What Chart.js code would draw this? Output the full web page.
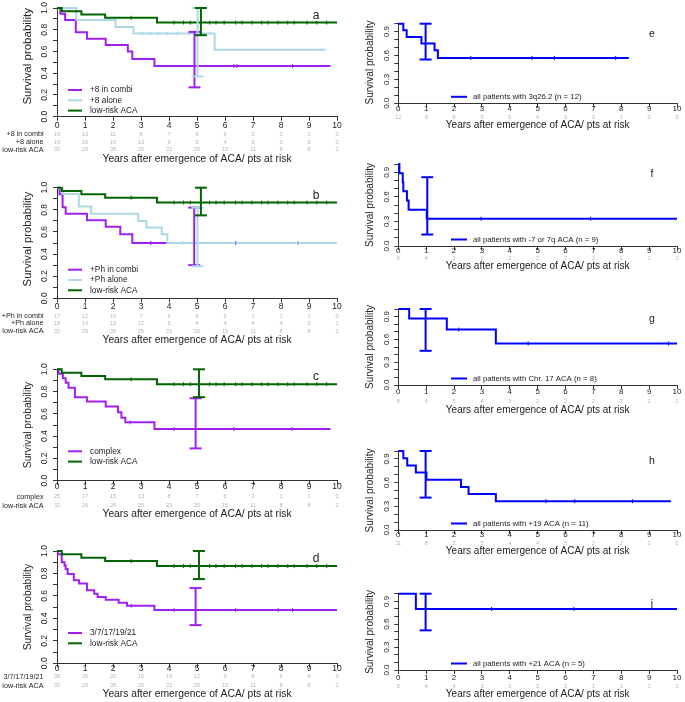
<!DOCTYPE html>
<html><head><meta charset="utf-8">
<script src="https://cdn.jsdelivr.net/npm/chart.js@4.4.0/dist/chart.umd.min.js"></script>
<style>
body{margin:0;background:#fff;width:685px;height:702px;position:relative;overflow:hidden}
canvas{position:absolute}
</style></head><body>
<script>
// ---- data ----
const years = [0, 1, 2, 3, 4, 5, 6, 7, 8, 9, 10];
const leftYTicks = [0, 0.2, 0.4, 0.6, 0.8, 1.0];
const rightYTicks = [0, 0.3, 0.6, 0.9];

// low-risk ACA reference curve, same in panels a-d
const lowRiskT = [0, 0.17, 0.87, 1.72, 3.57, 10];
const lowRiskS = [1, 0.97, 0.94, 0.91, 0.866, 0.866];
const lowRiskCens = [2.65, 4.18, 4.52, 4.76, 5.45, 5.68, 5.97, 6.38, 6.61, 6.96, 7.31, 7.54, 7.89, 8.24, 8.47, 8.93, 9.28, 9.63];
const lowRiskCI = [0.75, 1.0];
const lowRiskRisk = [32, 29, 28, 25, 23, 20, 15, 11, 8, 8, 2];

// a
const p8CombiT = [0, 0.12, 0.29, 0.67, 1.07, 1.74, 2.53, 2.69, 3.48, 9.77];
const p8CombiS = [1, 0.947, 0.889, 0.778, 0.717, 0.66, 0.60, 0.53, 0.466, 0.466];
const p8CombiCens = [6.32, 6.42, 8.41];
const p8CombiCI = [0.27, 0.78];
const p8CombiRisk = [19, 13, 11, 8, 7, 6, 6, 2, 2, 1, 0];
const p8AloneT = [0, 0.69, 2.09, 2.73, 5.63, 9.6];
const p8AloneS = [1, 0.889, 0.826, 0.766, 0.616, 0.616];
const p8AloneCens = [3.04, 3.34, 3.6, 3.94, 4.29, 4.7];
const p8AloneCI = [0.37, 1.0];
const p8AloneRisk = [19, 16, 16, 13, 9, 5, 4, 3, 3, 3, 0];

// b
const phCombiT = [0, 0.09, 0.2, 0.31, 1.07, 1.74, 2.26, 2.69, 9.77];
const phCombiS = [1, 0.941, 0.824, 0.765, 0.706, 0.647, 0.578, 0.5, 0.5];
const phCombiCens = [3.35, 6.38, 8.6];
const phCombiCI = [0.30, 0.82];
const phCombiRisk = [17, 12, 10, 7, 6, 6, 5, 1, 1, 1, 0];
const phAloneT = [0, 0.2, 0.78, 1.22, 2.9, 3.19, 3.74, 3.94, 10];
const phAloneS = [1, 0.944, 0.83, 0.765, 0.70, 0.64, 0.58, 0.5, 0.5];
const phAloneCens = [4.5, 6.4, 8.6];
const phAloneCI = [0.29, 0.82];
const phAloneRisk = [18, 14, 13, 12, 6, 4, 4, 4, 4, 3, 1];

// c
const complexT = [0, 0.06, 0.21, 0.31, 0.41, 0.64, 1.07, 1.74, 2.18, 2.3, 2.44, 3.48, 9.77];
const complexS = [1, 0.96, 0.92, 0.88, 0.835, 0.75, 0.71, 0.665, 0.614, 0.565, 0.524, 0.464, 0.464];
const complexCens = [2.61, 4.18, 6.32, 8.39];
const complexCI = [0.29, 0.74];
const complexRisk = [25, 17, 15, 13, 8, 7, 6, 2, 1, 1, 0];

// d
const acaT = [0, 0.03, 0.17, 0.27, 0.31, 0.38, 0.6, 0.79, 1.07, 1.33, 1.45, 1.74, 2.2, 2.5, 3.48, 10];
const acaS = [1, 0.97, 0.90, 0.87, 0.84, 0.795, 0.74, 0.71, 0.65, 0.62, 0.59, 0.565, 0.54, 0.513, 0.475, 0.475];
const acaCens = [2.65, 4.18, 6.38, 7.9, 8.41];
const acaCI = [0.34, 0.67];
const acaRisk = [38, 26, 20, 16, 14, 12, 9, 8, 6, 4, 3];

// e-j
const q3T = [0, 0.18, 0.3, 0.83, 1.3, 1.42, 8.27];
const q3S = [1, 0.917, 0.833, 0.75, 0.667, 0.57, 0.57];
const q3Cens = [2.6, 4.8, 5.6, 7.8];
const q3CI = [0.55, 1.0];
const q3Risk = [12, 9, 6, 5, 5, 4, 3, 3, 1, 0, 0];

const m7T = [0, 0.04, 0.16, 0.18, 0.31, 0.37, 1.02, 10];
const m7S = [1, 0.889, 0.778, 0.667, 0.556, 0.444, 0.333, 0.333];
const m7Cens = [2.97, 6.9];
const m7CI = [0.14, 0.84];
const m7Risk = [9, 4, 3, 2, 2, 2, 2, 1, 1, 1, 1];

const c17T = [0, 0.39, 1.74, 3.5, 10];
const c17S = [1, 0.875, 0.729, 0.547, 0.547];
const c17Cens = [2.17, 4.66, 9.7];
const c17CI = [0.45, 1.0];
const c17Risk = [8, 6, 5, 4, 3, 2, 2, 2, 2, 2, 1];

const p19T = [0, 0.18, 0.32, 0.63, 1.01, 2.25, 2.52, 3.5, 9.78];
const p19S = [1, 0.909, 0.818, 0.727, 0.636, 0.545, 0.455, 0.364, 0.364];
const p19Cens = [5.3, 6.33, 8.4];
const p19CI = [0.41, 1.0];
const p19Risk = [11, 8, 7, 5, 4, 4, 3, 2, 2, 1, 0];

const p21T = [0, 0.63, 10];
const p21S = [1, 0.8, 0.8];
const p21Cens = [3.35, 6.3];
const p21CI = [0.52, 1.0];
const p21Risk = [5, 4, 4, 3, 3, 2, 2, 1, 1, 1, 1];

// ---- drawing ----
const PURPLE = '#a020f0', LIGHTBLUE = '#add8e6', GREEN = '#006400', BLUE = '#0000ff';
const FONT = '"Liberation Sans", Arial, sans-serif';

function survAt(T, S, t) {
  let v = S[0];
  for (let i = 0; i < T.length; i++) if (T[i] <= t) v = S[i];
  return v;
}

function curveSets(T, S, cens, ci, ciX, color) {
  return {
    bar: { data: [{x: ciX, y: ci[0]}, {x: ciX, y: ci[1]}], borderColor: color, borderWidth: 2,
      pointStyle: 'line', pointRadius: 6, pointHoverRadius: 6, pointBorderWidth: 2, pointBorderColor: color, clip: false },
    line: { data: T.map((t, i) => ({x: t, y: S[i]})), borderColor: color, borderWidth: 2, stepped: true,
      pointRadius: 0, pointHoverRadius: 0, clip: false },
    marks: { data: cens.map(t => ({x: t, y: survAt(T, S, t)})), showLine: false, pointStyle: 'line', pointRotation: 90,
      pointRadius: 2, pointHoverRadius: 2, pointBorderWidth: 1, pointBorderColor: color, clip: false }
  };
}

const LEFT = {col: 'L', left: 0, width: 345, axisL: 57, axisR: 343.5, yTitleX: 28, yLabelX: 45, rowLabelX: 43.5, legendX: 68, letterX: 316, letterFont: 12, tickFont: 8.5, titleFont: 10.3, legendFont: 8.3, yTicks: leftYTicks};
const RIGHT = {col: 'R', left: 345, width: 340, axisL: 398.3, axisR: 679.3, yTitleX: 370, yLabelX: 387, rowLabelX: 0, legendX: 451, letterX: 652, letterFont: 10.5, tickFont: 8, titleFont: 10, legendFont: 7.8, yTicks: rightYTicks};

function panel(col, geo, letter, curves, ciXs, rows, legend, yTitleFont, yTitleShift) {
  return Object.assign({}, col, geo, {letter, curves, ciXs, rows, legend, yTitleFont, yTitleShift});
}

const panels = [
  panel(LEFT, {y1: 5.7, y0: 116.7, tickY: 126, rowYs: [134, 142, 149.7], titleY: 159.5}, 'a',
    [[p8CombiT, p8CombiS, p8CombiCens, p8CombiCI, PURPLE], [p8AloneT, p8AloneS, p8AloneCens, p8AloneCI, LIGHTBLUE], [lowRiskT, lowRiskS, lowRiskCens, lowRiskCI, GREEN]],
    [4.91, 5.02, 5.14],
    [['+8 in combi', p8CombiRisk], ['+8 alone', p8AloneRisk], ['low-risk ACA', lowRiskRisk]],
    ['+8 in combi', '+8 alone', 'low-risk ACA'], 11.5, -6),
  panel(LEFT, {y1: 187.7, y0: 298.3, tickY: 306.7, rowYs: [316, 323.5, 331], titleY: 340}, 'b',
    [[phCombiT, phCombiS, phCombiCens, phCombiCI, PURPLE], [phAloneT, phAloneS, phAloneCens, phAloneCI, LIGHTBLUE], [lowRiskT, lowRiskS, lowRiskCens, lowRiskCI, GREEN]],
    [4.9, 5.02, 5.14],
    [['+Ph in combi', phCombiRisk], ['+Ph alone', phAloneRisk], ['low-risk ACA', lowRiskRisk]],
    ['+Ph in combi', '+Ph alone', 'low-risk ACA'], 11.3, -4),
  panel(LEFT, {y1: 369.3, y0: 480.7, tickY: 486.7, rowYs: [496.7, 505.7], titleY: 514}, 'c',
    [[complexT, complexS, complexCens, complexCI, PURPLE], [lowRiskT, lowRiskS, lowRiskCens, lowRiskCI, GREEN]],
    [4.95, 5.07],
    [['complex', complexRisk], ['low-risk ACA', lowRiskRisk]],
    ['complex', 'low-risk ACA'], 10.3, 0),
  panel(LEFT, {y1: 551, y0: 663.3, tickY: 668.3, rowYs: [676.7, 685.7], titleY: 694}, 'd',
    [[acaT, acaS, acaCens, acaCI, PURPLE], [lowRiskT, lowRiskS, lowRiskCens, lowRiskCI, GREEN]],
    [4.95, 5.07],
    [['3/7/17/19/21', acaRisk], ['low-risk ACA', lowRiskRisk]],
    ['3/7/17/19/21', 'low-risk ACA'], 10.3, 0),
  panel(RIGHT, {y1: 23.7, y0: 103.3, tickY: 108.3, rowYs: [117.3], titleY: 125}, 'e',
    [[q3T, q3S, q3Cens, q3CI, BLUE]], [0.98], [['', q3Risk]], ['all patients with 3q26.2 (n = 12)'], 10, -1),
  panel(RIGHT, {y1: 164.1, y0: 246, tickY: 250.3, rowYs: [258.3], titleY: 266.7}, 'f',
    [[m7T, m7S, m7Cens, m7CI, BLUE]], [1.04], [['', m7Risk]], ['all patients with -7 or 7q ACA (n = 9)'], 10, 0),
  panel(RIGHT, {y1: 309, y0: 385, tickY: 391.7, rowYs: [401.7], titleY: 410.5}, 'g',
    [[c17T, c17S, c17Cens, c17CI, BLUE]], [0.98], [['', c17Risk]], ['all patients with Chr. 17 ACA (n = 8)'], 10, 0),
  panel(RIGHT, {y1: 451, y0: 530, tickY: 535, rowYs: [543.3], titleY: 551}, 'h',
    [[p19T, p19S, p19Cens, p19CI, BLUE]], [0.98], [['', p19Risk]], ['all patients with +19 ACA (n = 11)'], 10, 0),
  panel(RIGHT, {y1: 593.7, y0: 670, tickY: 677.3, rowYs: [686.7], titleY: 694}, 'j',
    [[p21T, p21S, p21Cens, p21CI, BLUE]], [0.98], [['', p21Risk]], ['all patients with +21 ACA (n = 5)'], 10, 0),
];

function decor(p, top) {
  return {
    id: 'decor',
    afterDraw(chart) {
      const ctx = chart.ctx, xs = chart.scales.x, ys = chart.scales.y, a = chart.chartArea;
      const X = v => v - p.left, Y = v => v - top;
      ctx.save();
      ctx.fillStyle = '#222';
      ctx.textAlign = 'center';
      ctx.textBaseline = 'middle';
      // y tick labels, rotated like R
      ctx.font = p.tickFont + 'px ' + FONT;
      p.yTicks.forEach(v => {
        ctx.save();
        ctx.translate(X(p.yLabelX), ys.getPixelForValue(v));
        ctx.rotate(-Math.PI / 2);
        ctx.fillText(v.toFixed(1), 0, 0);
        ctx.restore();
      });
      // x tick labels
      years.forEach(v => ctx.fillText(String(v), xs.getPixelForValue(v), Y(p.tickY)));
      // y title
      ctx.font = p.yTitleFont + 'px ' + FONT;
      ctx.save();
      ctx.translate(X(p.yTitleX), (a.top + a.bottom) / 2 + p.yTitleShift);
      ctx.rotate(-Math.PI / 2);
      ctx.fillText('Survival probability', 0, 0);
      ctx.restore();
      // x title
      ctx.font = p.titleFont + 'px ' + FONT;
      ctx.fillText('Years after emergence of ACA/ pts at risk', (a.left + a.right) / 2, Y(p.titleY));
      // numbers at risk
      p.rows.forEach(([label, nums], r) => {
        const y = Y(p.rowYs[r]);
        ctx.fillStyle = '#b4b4b4';
        ctx.font = '5.5px ' + FONT;
        ctx.textAlign = 'center';
        nums.forEach((n, i) => ctx.fillText(String(n), xs.getPixelForValue(years[i]), y));
        if (label) {
          ctx.fillStyle = '#222';
          ctx.font = '7.2px ' + FONT;
          ctx.textAlign = 'right';
          ctx.fillText(label, X(p.rowLabelX), y);
        }
      });
      // legend
      ctx.font = p.legendFont + 'px ' + FONT;
      ctx.textAlign = 'left';
      ctx.lineWidth = 2;
      p.legend.forEach((txt, i) => {
        const y = p.col === 'L' ? a.top + 82 + 10.3 * i : a.bottom - 6.5;
        ctx.strokeStyle = p.curves[i][4];
        ctx.beginPath();
        ctx.moveTo(X(p.legendX), y);
        ctx.lineTo(X(p.legendX) + (p.col === 'L' ? 14 : 16), y);
        ctx.stroke();
        ctx.fillStyle = '#222';
        ctx.fillText(txt, X(p.legendX) + 22, y);
      });
      // panel letter
      ctx.font = p.letterFont + 'px ' + FONT;
      ctx.textAlign = 'center';
      ctx.fillText(p.letter, X(p.letterX), a.top + (p.col === 'L' ? 7.5 : 10));
      ctx.restore();
    }
  };
}

panels.forEach(p => {
  const top = Math.max(0, Math.floor(p.y1 - 12));
  const bottom = Math.min(702, Math.ceil(p.titleY + 8));
  const h = bottom - top;
  const cv = document.createElement('canvas');
  cv.width = p.width; cv.height = h;
  cv.style.left = p.left + 'px'; cv.style.top = top + 'px';
  cv.style.width = p.width + 'px'; cv.style.height = h + 'px';
  document.body.appendChild(cv);

  const bars = [], lines = [], marks = [];
  p.curves.forEach((c, i) => {
    const s = curveSets(c[0], c[1], c[2], c[3], p.ciXs[i], c[4]);
    bars.push(s.bar); lines.push(s.line); marks.push(s.marks);
  });
  // first dataset is painted on top in Chart.js, so reverse to let later curves win
  const datasets = [...bars.reverse(), ...marks.reverse(), ...lines.reverse()];

  const axisCol = '#333';
  new Chart(cv, {
    type: 'line',
    data: { datasets },
    options: {
      responsive: false,
      animation: false,
      events: [],
      layout: { padding: { top: p.y1 - top, right: p.width - (p.axisR - p.left), left: 0, bottom: 0 } },
      plugins: { legend: { display: false }, tooltip: { enabled: false } },
      scales: {
        x: {
          type: 'linear', min: 0, max: 10,
          ticks: { stepSize: 1, display: false },
          grid: { drawOnChartArea: false, drawTicks: true, tickLength: 4, color: axisCol, lineWidth: 1 },
          border: { display: true, color: axisCol, width: 1 },
          afterFit: s => { s.height = bottom - p.y0; }
        },
        y: {
          min: 0, max: 1,
          ticks: { stepSize: 0.1, display: false },
          grid: { drawOnChartArea: false, drawTicks: true, tickLength: 4, color: axisCol, lineWidth: 1 },
          border: { display: true, color: axisCol, width: 1 },
          afterFit: s => { s.width = p.axisL - p.left; }
        }
      }
    },
    plugins: [decor(p, top)]
  });
});
</script>
</body></html>
